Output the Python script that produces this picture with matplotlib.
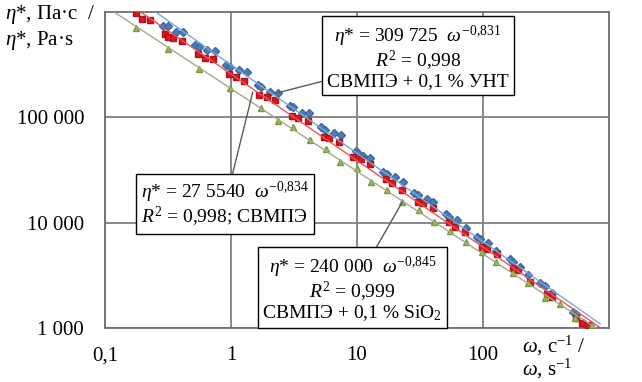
import matplotlib
matplotlib.use("Agg")
import matplotlib.pyplot as plt
import numpy as np

plt.rcParams['font.family'] = ['Liberation Serif', 'DejaVu Serif']
plt.rcParams['mathtext.fontset'] = 'custom'
plt.rcParams['mathtext.rm'] = 'Liberation Serif'
plt.rcParams['mathtext.it'] = 'Liberation Serif:italic'

# СВМПЭ + 0,1 % УНТ (blue diamonds)
omega_unt = [0.290, 0.318, 0.367, 0.418, 0.519, 0.559, 0.646, 0.748, 0.913, 0.982,
             1.157, 1.338, 1.634, 1.726, 2.03, 2.35, 2.93, 3.09, 3.64, 4.14,
             5.15, 5.53, 6.52, 7.41, 9.73, 10.1, 11.25, 12.6, 16.2, 17.4,
             20.1, 23.3, 28.5, 30.6, 36.1, 40.3, 51.0, 53.9, 62.3, 73.4,
             89.7, 94.7, 110, 127, 163, 173, 196, 227, 282, 309,
             351, 514, 543, 618]
eta_unt = [738000, 738000, 647000, 647000, 487000, 466000, 437000, 427000, 315000, 301000,
           282000, 270000, 203000, 194000, 174000, 171000, 128000, 126000, 110000, 110000,
           81000, 75900, 71100, 68100, 48000, 45900, 43000, 41100, 30300, 29000,
           27200, 24400, 19100, 18300, 16800, 15700, 12100, 11300, 10600, 8910,
           7310, 7000, 6410, 5380, 4520, 4240, 3800, 3190, 2670, 2500,
           2150, 1420, 1360, 1110]

# СВМПЭ (red squares)
omega_pe = [0.177, 0.198, 0.229, 0.301, 0.318, 0.348, 0.410, 0.548, 0.623, 0.721,
            0.964, 1.096, 1.267, 1.665, 1.926, 2.23, 3.04, 3.39, 4.06, 5.44,
            5.95, 7.14, 9.38, 10.7, 12.6, 17.1, 19.1, 22.9, 30.6, 33.6,
            40.3, 53.9, 60.1, 72.1, 98.2, 108, 129, 173, 189, 235,
            321, 351, 543, 606, 676]
eta_pe = [980000, 859000, 841000, 620000, 580000, 568000, 532000, 400000, 366000, 359000,
          258000, 242000, 222000, 163000, 156000, 146000, 103000, 98600, 92400, 65100,
          63700, 58300, 42100, 40300, 36100, 26000, 23800, 20500, 15700, 15400,
          13800, 10200, 9100, 8160, 5880, 5630, 5050, 3710, 3560, 2740,
          2100, 1970, 1240, 1110, 1070]

# СВМПЭ + 0,1 % SiO2 (green triangles)
omega_sio2 = [0.177, 0.318, 0.559, 0.982, 1.726, 2.35, 3.09, 4.21, 5.64, 7.27,
              9.91, 13.0, 17.4, 22.9, 31.2, 41.0, 54.8, 73.4, 98.2, 127,
              173, 227, 309, 406, 534, 727]
eta_sio2 = [706000, 446000, 288000, 190000, 123000, 92500, 81100, 61000, 50100, 37700,
            33000, 24400, 20500, 15700, 13200, 10200, 8340, 6560, 5270, 4240,
            3330, 2670, 1930, 1690, 1240, 1070]

x_ticks = [0.1, 1, 10, 100]
x_tick_labels = ['0,1', '1', '10', '100']
y_ticks = [1000, 10000, 100000]
y_tick_labels = ['1 000', '10 000', '100 000']

fig = plt.figure(figsize=(6.42, 3.82), dpi=100)
ax = fig.add_axes([105 / 642, 1 - 328 / 382, 504 / 642, 316 / 382])

ax.plot(omega_unt, eta_unt, 'D', color='#4a7ebb', mec='#3a6aa5', ms=4.5, zorder=3)
ax.plot(omega_pe, eta_pe, 's', color='#e0161c', mec='#b01218', ms=4.5, zorder=3)
ax.plot(omega_sio2, eta_sio2, '^', color='#9bbb59', mec='#7a9a3a', ms=5, zorder=3)

# power-law trendlines (least squares in log-log, as Excel does)
w = np.logspace(-1, np.log10(850), 200)
for om, et, c in [(omega_unt, eta_unt, '#7aa6d6'),
                  (omega_pe, eta_pe, '#e8545a'),
                  (omega_sio2, eta_sio2, '#a4a98c')]:
    k, b = np.polyfit(np.log10(om), np.log10(et), 1)
    ax.plot(w, 10 ** b * w ** k, color=c, lw=1.0, zorder=4)

ax.set_xscale('log')
ax.set_yscale('log')
ax.set_xlim(0.1, 1000)
ax.set_ylim(1000, 1e6)
ax.set_xticks(x_ticks)
ax.set_xticklabels(x_tick_labels)
ax.set_yticks(y_ticks)
ax.set_yticklabels(y_tick_labels)
ax.minorticks_off()
ax.tick_params(length=0, labelsize=15)
ax.tick_params(axis='y', pad=15)
ax.tick_params(axis='x', pad=13)
ax.grid(True, color='#7f7f7f', lw=1.3)
for s in ax.spines.values():
    s.set_color('#6e6e6e')
    s.set_linewidth(1.3)

fig.text(5 / 642, 1 - 14 / 382, '$\\eta$*, Па·с  /', fontsize=15, va='center', ha='left')
fig.text(5 / 642, 1 - 41 / 382, '$\\eta$*, Pa·s', fontsize=15, va='center', ha='left')
fig.text(522 / 642, 1 - 346 / 382, '$\\omega$, с$^{\\mathrm{-1}}$ /', fontsize=15, va='center', ha='left')
fig.text(522 / 642, 1 - 369 / 382, '$\\omega$, s$^{\\mathrm{-1}}$', fontsize=15, va='center', ha='left')

box = dict(boxstyle='square,pad=0.25', fc='white', ec='black', lw=1)
line = dict(arrowstyle='-', color='#595959', lw=1, shrinkA=0, shrinkB=0)

ax.annotate('$\\eta$* = 309 725  $\\omega^{\\mathrm{-0{,}831}}$\n$R^{\\mathrm{2}}$ = 0,998\nСВМПЭ + 0,1 % УНТ',
            xy=(omega_unt[15], eta_unt[15]), xycoords='data',
            xytext=(0.621, 0.859), textcoords='axes fraction',
            ha='center', va='center', fontsize=14, linespacing=1.0,
            bbox=box, arrowprops=line, zorder=5)
ax.annotate('$\\eta$* = 27 5540  $\\omega^{\\mathrm{-0{,}834}}$\n$R^{\\mathrm{2}}$ = 0,998; СВМПЭ',
            xy=(1.49, 174000), xycoords='data',
            xytext=(0.238, 0.391), textcoords='axes fraction',
            ha='center', va='center', fontsize=14, linespacing=1.0,
            bbox=box, arrowprops=line, zorder=5)
ax.annotate('$\\eta$* = 240 000  $\\omega^{\\mathrm{-0{,}845}}$\n$R^{\\mathrm{2}}$ = 0,999\nСВМПЭ + 0,1 % SiO$_{\\mathrm{2}}$',
            xy=(omega_sio2[13], eta_sio2[13]), xycoords='data',
            xytext=(0.491, 0.124), textcoords='axes fraction',
            ha='center', va='center', fontsize=14, linespacing=1.0,
            bbox=box, arrowprops=line, zorder=5)

fig.savefig('out.png', dpi=100)
